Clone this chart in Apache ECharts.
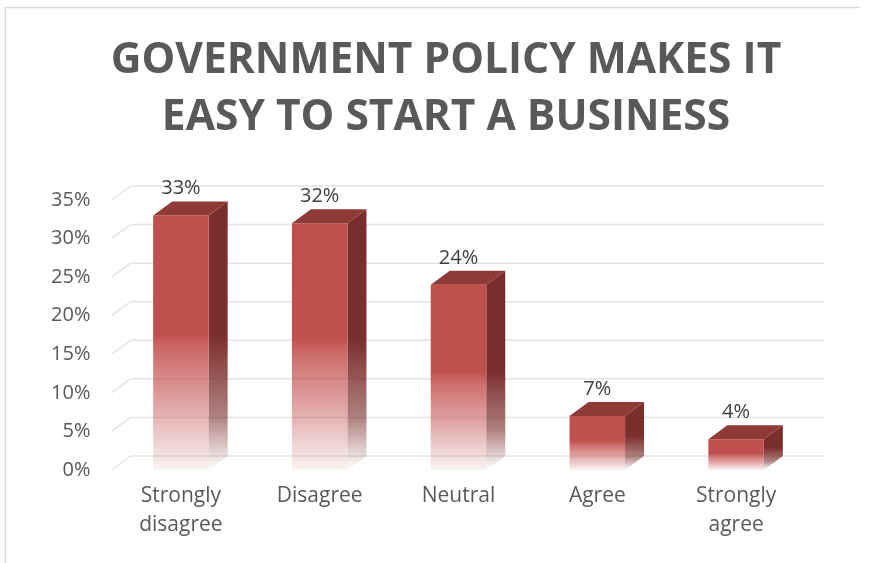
<!DOCTYPE html>
<html>
<head>
<meta charset="utf-8">
<script src="https://cdn.jsdelivr.net/npm/echarts@6/dist/echarts.min.js"></script>
<style>
  html, body { margin: 0; padding: 0; background: #ffffff; }
  #chart { width: 869px; height: 563px; }
</style>
</head>
<body>
<div id="chart"></div>
<script>
// Survey answers and their shares (percent of respondents)
const categories = ['Strongly\ndisagree', 'Disagree', 'Neutral', 'Agree', 'Strongly\nagree'];
const shares = [33, 32, 24, 7, 4];
const yTicks = [0, 5, 10, 15, 20, 25, 30, 35];

const FONT = '"Open Sans", "Noto Sans", sans-serif';
// Depth offset of the pseudo-3D box (px)
const DX = 19, DY = 14;

const chart = echarts.init(document.getElementById('chart'), null, { renderer: 'canvas' });

function renderGrid(params, api) {
  const y = api.coord([0, api.value(1)])[1];
  const cs = params.coordSys;
  const stroke = { stroke: '#e4e4e4', lineWidth: 1.5 };
  return {
    type: 'group',
    children: [
      { type: 'line', shape: { x1: cs.x, y1: y, x2: cs.x + DX, y2: y - DY }, style: stroke },
      { type: 'line', shape: { x1: cs.x + DX, y1: y - DY, x2: cs.x + cs.width + DX, y2: y - DY }, style: stroke }
    ]
  };
}

function renderBar(params, api) {
  const base = api.coord([api.value(0), 0]);
  const top = api.coord([api.value(0), api.value(1)]);
  const w = api.size([1, 0])[0] * 0.4;
  const xl = base[0] - w / 2, xr = base[0] + w / 2;
  const yt = top[1], yb = base[1];
  const frontFill = new echarts.graphic.LinearGradient(0, 0, 0, 1, [
    { offset: 0, color: '#c0504d' },
    { offset: 0.47, color: '#c1514e' },
    { offset: 0.52, color: 'rgba(200,92,90,0.92)' },
    { offset: 0.75, color: 'rgba(200,95,95,0.55)' },
    { offset: 1, color: 'rgba(200,100,100,0.08)' }
  ]);
  const sideFill = new echarts.graphic.LinearGradient(0, 0, 0, 1, [
    { offset: 0, color: '#7a2e2c' },
    { offset: 0.5, color: '#7b2f2d' },
    { offset: 0.8, color: 'rgba(122,46,44,0.6)' },
    { offset: 1, color: 'rgba(122,46,44,0)' }
  ]);
  return {
    type: 'group',
    children: [
      {
        type: 'polygon',
        shape: { points: [[xr, yt], [xr + DX, yt - DY], [xr + DX, yb - DY], [xr, yb]] },
        style: { fill: sideFill }
      },
      {
        type: 'rect',
        shape: { x: xl, y: yt, width: w, height: yb - yt },
        style: { fill: frontFill }
      },
      {
        type: 'polygon',
        shape: { points: [[xl, yt], [xl + DX, yt - DY], [xr + DX, yt - DY], [xr, yt]] },
        style: { fill: '#8f3a37' }
      },
      {
        type: 'text',
        style: {
          text: api.value(1) + '%',
          x: base[0], y: yt - DY - 3,
          textAlign: 'center', textVerticalAlign: 'bottom',
          font: '20px ' + FONT, fill: '#404040'
        }
      }
    ]
  };
}

chart.setOption({
  animation: false,
  backgroundColor: '#ffffff',
  title: {
    text: 'GOVERNMENT POLICY MAKES IT\nEASY TO START A BUSINESS',
    left: 441, top: 27, textAlign: 'center',
    textStyle: { fontFamily: FONT, fontWeight: 'bold', fontSize: 42.5, lineHeight: 57, color: '#595959' }
  },
  graphic: [{
    type: 'polyline',
    shape: { points: [[5.5, 563], [5.5, 7.5], [860, 7.5]] },
    style: { stroke: '#d9d9d9', lineWidth: 1.5, fill: null }
  }],
  grid: { left: 111.5, right: 63.5, top: 200, bottom: 93 },
  xAxis: {
    type: 'category',
    data: categories,
    axisLine: { show: false },
    axisTick: { show: false },
    axisLabel: { fontFamily: FONT, fontSize: 21, color: '#595959', lineHeight: 29, margin: 12, interval: 0 }
  },
  yAxis: {
    type: 'value',
    min: 0, max: 35, interval: 5,
    axisLine: { show: false },
    axisTick: { show: false },
    splitLine: { show: false },
    axisLabel: { fontFamily: FONT, fontSize: 20, color: '#595959', margin: 21, formatter: '{value}%' }
  },
  series: [
    {
      type: 'custom',
      name: 'grid',
      renderItem: renderGrid,
      data: yTicks.map(v => [0, v]),
      encode: { x: 0, y: 1 },
      z: 1,
      silent: true
    },
    {
      type: 'custom',
      name: 'share',
      renderItem: renderBar,
      data: shares.map((v, i) => [i, v]),
      encode: { x: 0, y: 1 },
      z: 2
    }
  ]
});
</script>
</body>
</html>
